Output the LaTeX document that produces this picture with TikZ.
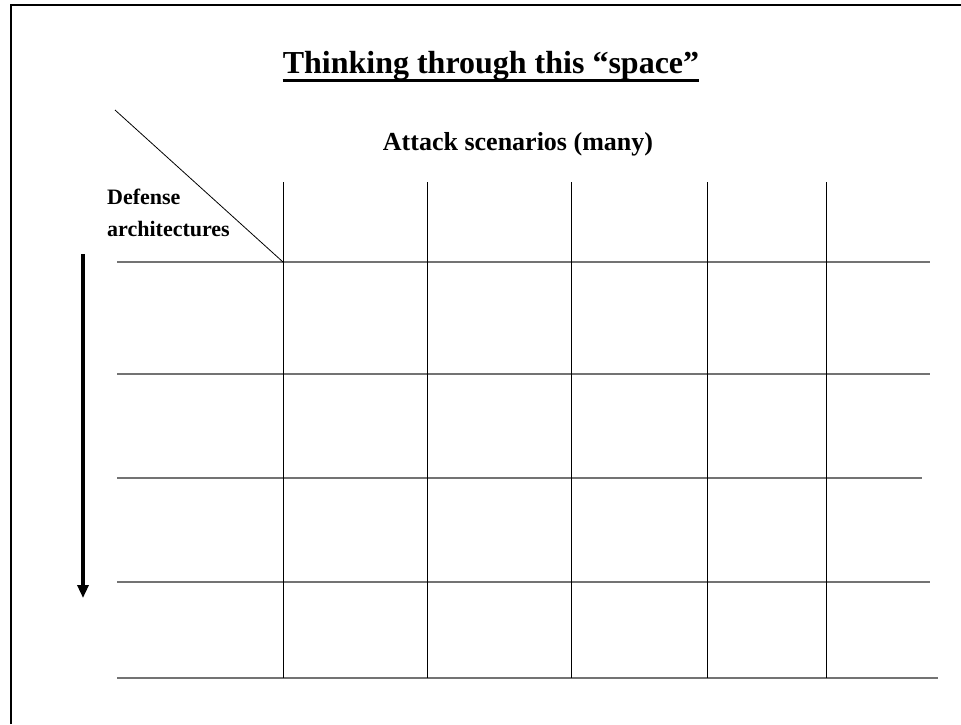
\documentclass[tikz,border=0pt]{standalone}
\usepackage{fontspec}
\setmainfont{Liberation Serif}
\usetikzlibrary{arrows.meta}

\begin{document}
\begin{tikzpicture}[x=1pt,y=-1pt,
    rowline/.style={draw=black!55, line width=1.3pt},
    colline/.style={draw=black, line width=0.9pt},
    label/.style={font=\bfseries\fontsize{22}{32}\selectfont, inner sep=0pt}]
  \useasboundingbox (0,0) rectangle (961,724);
  % frame (top and left only)
  \draw[line width=2.2pt] (11,724) -- (11,5) -- (961,5);
  % title
  \node[inner sep=0pt, font=\bfseries\fontsize{32}{38}\selectfont, anchor=base] (title) at (491,73) {Thinking through this ``space''};
  \draw[line width=2.5pt] (title.south west) -- (title.south east);
  % headings
  \node[label, font=\bfseries\fontsize{26}{30}\selectfont, anchor=base] (attack) at (518,150) {Attack scenarios (many)};
  \node[label, anchor=north west, align=left] (defense) at (107,189) {Defense\\architectures};
  % grid
  \foreach \y/\xe in {262/930,374/930,478/922,582/930,678/938}
    \draw[rowline] (117,\y) -- (\xe,\y);
  \foreach \x in {283,427,571,707,826}
    \draw[colline] (\x,182) -- (\x,678);
  \coordinate (diagstart) at (115,110);
  \coordinate (corner) at (283,262);
  \draw[colline, line width=0.8pt] (diagstart) -- (corner);
  % arrow down the rows
  \coordinate (archtop) at (83,254);
  \coordinate (archbot) at (83,598);
  \draw[line width=3.2pt, -{Triangle[width=11pt,length=13pt]}] (archtop) -- (archbot);
\end{tikzpicture}
\end{document}
